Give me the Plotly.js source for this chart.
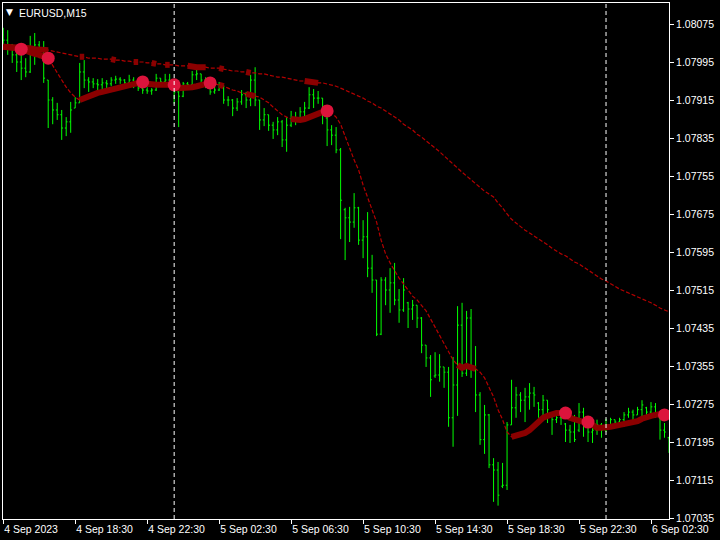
<!DOCTYPE html>
<html>
<head>
<meta charset="utf-8">
<script src="https://cdn.plot.ly/plotly-3.0.1.min.js"></script>
<style>html,body{margin:0;padding:0;background:#000;}#chart{width:720px;height:540px;}</style>
</head>
<body>
<div id="chart"></div>
<script>
// ---- data (EURUSD M15, bars starting 4 Sep 2023 14:30) ----
const startTime = Date.UTC(2023, 8, 4, 14, 30);
const barMinutes = 15;

const open = [1.08052,1.08041,1.08031,1.08010,1.07995,1.07982,1.07974,1.08024,1.08031,1.08020,
1.07957,1.07915,1.07894,1.07884,1.07856,1.07869,1.07898,1.07909,1.07974,1.07957,
1.07953,1.07949,1.07947,1.07951,1.07949,1.07957,1.07959,1.07957,1.07951,1.07957,
1.07953,1.07940,1.07936,1.07934,1.07936,1.07961,1.07953,1.07957,1.07940,1.07932,
1.07923,1.07949,1.07947,1.07968,1.07970,1.07957,1.07953,1.07932,1.07936,1.07947,
1.07915,1.07915,1.07898,1.07911,1.07926,1.07915,1.07957,1.07915,1.07873,1.07884,
1.07862,1.07852,1.07869,1.07831,1.07862,1.07873,1.07877,1.07890,1.07898,1.07926,
1.07919,1.07919,1.07877,1.07852,1.07841,1.07810,1.07684,1.07667,1.07658,1.07688,
1.07620,1.07627,1.07561,1.07536,1.07422,1.07536,1.07515,1.07530,1.07494,1.07473,
1.07488,1.07475,1.07483,1.07456,1.07399,1.07372,1.07334,1.07336,1.07353,1.07342,
1.07246,1.07315,1.07441,1.07340,1.07456,1.07351,1.07294,1.07200,1.07252,1.07147,
1.07136,1.07102,1.07104,1.07231,1.07267,1.07294,1.07283,1.07290,1.07298,1.07277,
1.07263,1.07283,1.07250,1.07242,1.07246,1.07233,1.07220,1.07216,1.07220,1.07258,
1.07229,1.07216,1.07220,1.07231,1.07220,1.07231,1.07242,1.07237,1.07242,1.07252,
1.07258,1.07252,1.07263,1.07267,1.07258,1.07269,1.07246,1.07220,1.07204];

const high = [1.08067,1.08062,1.08033,1.08020,1.08010,1.08003,1.08050,1.08056,1.08039,1.08039,
1.07957,1.07921,1.07909,1.07894,1.07879,1.07911,1.07921,1.07993,1.07999,1.07963,
1.07961,1.07959,1.07961,1.07957,1.07963,1.07966,1.07963,1.07959,1.07968,1.07963,
1.07953,1.07944,1.07942,1.07940,1.07970,1.07961,1.07970,1.07970,1.07944,1.07940,
1.07953,1.07953,1.07976,1.07980,1.07970,1.07963,1.07953,1.07944,1.07953,1.07947,
1.07923,1.07917,1.07919,1.07936,1.07932,1.07968,1.07984,1.07915,1.07898,1.07884,
1.07869,1.07879,1.07873,1.07879,1.07892,1.07890,1.07900,1.07911,1.07942,1.07938,
1.07934,1.07919,1.07879,1.07862,1.07858,1.07814,1.07688,1.07690,1.07719,1.07690,
1.07662,1.07679,1.07589,1.07536,1.07542,1.07542,1.07561,1.07572,1.07517,1.07540,
1.07490,1.07494,1.07483,1.07458,1.07399,1.07378,1.07384,1.07380,1.07353,1.07353,
1.07374,1.07481,1.07488,1.07471,1.07475,1.07397,1.07300,1.07273,1.07254,1.07161,
1.07153,1.07151,1.07237,1.07326,1.07311,1.07300,1.07309,1.07319,1.07311,1.07279,
1.07294,1.07283,1.07252,1.07256,1.07263,1.07235,1.07231,1.07252,1.07277,1.07267,
1.07231,1.07227,1.07242,1.07235,1.07244,1.07246,1.07242,1.07246,1.07258,1.07267,
1.07263,1.07269,1.07283,1.07269,1.07279,1.07277,1.07248,1.07235,1.07206];

const low = [1.08031,1.08010,1.07993,1.07974,1.07957,1.07963,1.07972,1.07989,1.08003,1.07951,
1.07856,1.07864,1.07873,1.07831,1.07839,1.07846,1.07898,1.07909,1.07940,1.07932,
1.07940,1.07934,1.07932,1.07940,1.07944,1.07949,1.07949,1.07940,1.07947,1.07940,
1.07934,1.07928,1.07928,1.07926,1.07934,1.07944,1.07944,1.07944,1.07907,1.07858,
1.07921,1.07938,1.07942,1.07957,1.07949,1.07940,1.07926,1.07928,1.07934,1.07907,
1.07902,1.07881,1.07892,1.07905,1.07898,1.07902,1.07902,1.07852,1.07860,1.07850,
1.07833,1.07841,1.07816,1.07806,1.07858,1.07862,1.07869,1.07877,1.07896,1.07898,
1.07907,1.07864,1.07818,1.07820,1.07803,1.07622,1.07578,1.07616,1.07646,1.07610,
1.07582,1.07542,1.07509,1.07418,1.07420,1.07483,1.07467,1.07483,1.07446,1.07469,
1.07435,1.07452,1.07435,1.07382,1.07353,1.07290,1.07330,1.07322,1.07309,1.07227,
1.07185,1.07250,1.07332,1.07334,1.07330,1.07258,1.07189,1.07170,1.07140,1.07069,
1.07061,1.07098,1.07094,1.07231,1.07246,1.07258,1.07237,1.07263,1.07269,1.07246,
1.07248,1.07235,1.07210,1.07235,1.07231,1.07195,1.07193,1.07195,1.07216,1.07206,
1.07195,1.07193,1.07210,1.07204,1.07216,1.07231,1.07227,1.07231,1.07227,1.07246,
1.07237,1.07252,1.07248,1.07252,1.07256,1.07246,1.07200,1.07204,1.07172];

const close = [1.08041,1.08031,1.08010,1.07995,1.07982,1.07974,1.08024,1.08031,1.08020,1.07961,
1.07915,1.07894,1.07884,1.07856,1.07869,1.07894,1.07909,1.07974,1.07957,1.07953,
1.07949,1.07947,1.07951,1.07949,1.07957,1.07959,1.07957,1.07951,1.07957,1.07953,
1.07940,1.07936,1.07934,1.07936,1.07961,1.07953,1.07957,1.07951,1.07932,1.07923,
1.07949,1.07947,1.07968,1.07970,1.07957,1.07953,1.07932,1.07936,1.07947,1.07915,
1.07915,1.07898,1.07911,1.07926,1.07915,1.07957,1.07915,1.07873,1.07884,1.07862,
1.07852,1.07869,1.07831,1.07862,1.07873,1.07877,1.07890,1.07898,1.07926,1.07919,
1.07919,1.07884,1.07852,1.07841,1.07810,1.07704,1.07667,1.07658,1.07688,1.07620,
1.07627,1.07561,1.07536,1.07422,1.07536,1.07515,1.07530,1.07494,1.07473,1.07515,
1.07475,1.07483,1.07456,1.07399,1.07372,1.07326,1.07336,1.07353,1.07342,1.07246,
1.07315,1.07441,1.07340,1.07456,1.07351,1.07294,1.07200,1.07252,1.07147,1.07136,
1.07083,1.07104,1.07231,1.07267,1.07294,1.07283,1.07290,1.07298,1.07294,1.07263,
1.07283,1.07263,1.07242,1.07246,1.07246,1.07220,1.07216,1.07200,1.07258,1.07242,
1.07216,1.07220,1.07231,1.07220,1.07231,1.07242,1.07237,1.07242,1.07252,1.07258,
1.07252,1.07263,1.07273,1.07258,1.07269,1.07252,1.07220,1.07216,1.07189];

// fast moving average (red, thin dashed with thick sections)
const fastMA = [1.08027,1.08027,1.08024,1.08024,1.08022,1.08018,1.08014,1.08012,1.08010,1.08008,
1.08003,1.07987,1.07972,1.07957,1.07942,1.07930,1.07921,1.07915,1.07919,1.07923,
1.07928,1.07930,1.07932,1.07934,1.07938,1.07940,1.07942,1.07944,1.07947,1.07949,
1.07951,1.07953,1.07949,1.07947,1.07947,1.07947,1.07947,1.07947,1.07947,1.07940,
1.07940,1.07940,1.07942,1.07944,1.07947,1.07949,1.07951,1.07949,1.07947,1.07944,
1.07940,1.07936,1.07934,1.07930,1.07928,1.07926,1.07923,1.07921,1.07915,1.07909,
1.07900,1.07892,1.07884,1.07879,1.07875,1.07873,1.07873,1.07875,1.07879,1.07884,
1.07888,1.07890,1.07892,1.07888,1.07879,1.07864,1.07841,1.07814,1.07789,1.07768,
1.07736,1.07711,1.07686,1.07658,1.07620,1.07591,1.07572,1.07555,1.07540,1.07528,
1.07515,1.07502,1.07494,1.07483,1.07471,1.07454,1.07437,1.07420,1.07403,1.07384,
1.07368,1.07357,1.07351,1.07355,1.07353,1.07349,1.07342,1.07330,1.07309,1.07290,
1.07263,1.07242,1.07216,1.07206,1.07208,1.07210,1.07214,1.07220,1.07229,1.07239,
1.07246,1.07250,1.07254,1.07256,1.07256,1.07256,1.07246,1.07242,1.07239,1.07237,
1.07237,1.07231,1.07225,1.07225,1.07225,1.07227,1.07229,1.07231,1.07231,1.07233,
1.07237,1.07239,1.07244,1.07248,1.07250,1.07252,1.07254,1.07252,1.07250];

// slow moving average
const slowMA = [1.08027,1.08027,1.08027,1.08024,1.08024,1.08024,1.08024,1.08022,1.08022,1.08022,
1.08020,1.08018,1.08016,1.08014,1.08012,1.08010,1.08008,1.08006,1.08006,1.08003,
1.08003,1.08003,1.08001,1.08001,1.08001,1.07999,1.07999,1.07997,1.07997,1.07995,
1.07995,1.07995,1.07993,1.07993,1.07991,1.07991,1.07989,1.07989,1.07989,1.07987,
1.07987,1.07987,1.07984,1.07984,1.07984,1.07984,1.07982,1.07982,1.07982,1.07980,
1.07978,1.07976,1.07976,1.07974,1.07974,1.07972,1.07972,1.07970,1.07970,1.07968,
1.07966,1.07963,1.07963,1.07961,1.07959,1.07957,1.07955,1.07955,1.07953,1.07953,
1.07951,1.07951,1.07949,1.07947,1.07944,1.07940,1.07936,1.07932,1.07928,1.07923,
1.07919,1.07913,1.07909,1.07902,1.07898,1.07892,1.07886,1.07879,1.07873,1.07864,
1.07858,1.07852,1.07843,1.07837,1.07829,1.07822,1.07814,1.07806,1.07797,1.07789,
1.07780,1.07772,1.07763,1.07755,1.07747,1.07738,1.07732,1.07723,1.07717,1.07711,
1.07698,1.07688,1.07675,1.07664,1.07656,1.07648,1.07641,1.07635,1.07629,1.07622,
1.07616,1.07610,1.07603,1.07597,1.07591,1.07587,1.07580,1.07574,1.07570,1.07563,
1.07557,1.07551,1.07545,1.07538,1.07534,1.07528,1.07523,1.07517,1.07513,1.07509,
1.07504,1.07500,1.07496,1.07492,1.07488,1.07483,1.07477,1.07473,1.07469];

// bar-index ranges where each average is drawn thick
const fastThickRanges = [[0,10],[17,46],[48,49],[54,56],[64,72],[101,105],[113,148]];
const slowThickRanges = [[0,10],[17,18],[24,25],[29,30],[33,34],[36,37],[41,45],[48,49],[54,55],[67,70]];
// bars where a signal dot sits on the fast average
const signalBars = [4,10,31,38,46,72,125,130,147];

const tickTimes = ['2023-09-04 14:30','2023-09-04 18:30','2023-09-04 22:30','2023-09-05 02:30','2023-09-05 06:30',
                   '2023-09-05 10:30','2023-09-05 14:30','2023-09-05 18:30','2023-09-05 22:30','2023-09-06 02:30'];
const tickLabels = ['4 Sep 2023','4 Sep 18:30','4 Sep 22:30','5 Sep 02:30','5 Sep 06:30',
                    '5 Sep 10:30','5 Sep 14:30','5 Sep 18:30','5 Sep 22:30','6 Sep 02:30'];
const daySeparators = ['2023-09-05 00:00','2023-09-06 00:00'];
const priceTicks = [1.07035,1.07115,1.07195,1.07275,1.07355,1.07435,1.07515,1.07595,1.07675,1.07755,1.07835,1.07915,1.07995,1.08075];

// ---- build ----
const step = barMinutes * 60000;
const times = open.map((_, i) => startTime + i * step);

const traces = [];
traces.push({
  type: 'ohlc', x: times, open: open, high: high, low: low, close: close,
  increasing: {line: {color: '#00ff00', width: 1}},
  decreasing: {line: {color: '#00ff00', width: 1}},
  tickwidth: 0.3, hoverinfo: 'skip'
});

const maColor = '#8b0000';
[slowMA, fastMA].forEach(ma => traces.push({
  type: 'scatter', mode: 'lines', x: times, y: ma,
  line: {color: '#b40000', width: 1.2, dash: '4px,2px'}, hoverinfo: 'skip'
}));

function thick(ma, ranges) {
  ranges.forEach(r => traces.push({
    type: 'scatter', mode: 'lines',
    x: times.slice(r[0], r[1] + 1), y: ma.slice(r[0], r[1] + 1),
    line: {color: maColor, width: 6}, hoverinfo: 'skip'
  }));
}
thick(slowMA, slowThickRanges);
thick(fastMA, fastThickRanges);

traces.push({
  type: 'scatter', mode: 'markers',
  x: signalBars.map(i => times[i]), y: signalBars.map(i => fastMA[i]),
  marker: {color: '#dc143c', size: 13}, hoverinfo: 'skip'
});

const font = {family: 'Liberation Sans, Arial, sans-serif', size: 10.5, color: '#ffffff'};
const layout = {
  width: 720, height: 540,
  paper_bgcolor: '#000000', plot_bgcolor: '#000000',
  margin: {l: 3, r: 51, t: 3, b: 21},
  showlegend: false, hovermode: false,
  font: font,
  xaxis: {
    type: 'date',
    range: [startTime - 0.05 * step, startTime + 148.0 * step],
    tickmode: 'array', tickvals: tickTimes, ticktext: tickLabels,
    ticks: 'outside', ticklen: 4, tickcolor: '#ffffff', tickfont: font,
    ticklabelposition: 'outside right',
    showgrid: false, zeroline: false,
    showline: true, linecolor: '#ffffff', linewidth: 1, mirror: true,
    rangeslider: {visible: false}, fixedrange: true
  },
  yaxis: {
    side: 'right',
    range: [1.070329, 1.081192],
    tickmode: 'array', tickvals: priceTicks, ticktext: priceTicks.map(v => v.toFixed(5)),
    ticks: 'outside', ticklen: 4, tickcolor: '#ffffff', tickfont: font,
    showgrid: false, zeroline: false,
    showline: true, linecolor: '#ffffff', linewidth: 1, mirror: true,
    fixedrange: true
  },
  shapes: daySeparators.map(d => ({
    type: 'line', xref: 'x', yref: 'paper', x0: d, x1: d, y0: 0, y1: 1,
    line: {color: '#ffffff', width: 1, dash: '4px,3px'}
  })),
  annotations: [
    {xref: 'paper', yref: 'paper', x: 0, y: 1, xanchor: 'left', yanchor: 'top',
     xshift: 1, yshift: -2, text: '▼', showarrow: false,
     font: {family: 'DejaVu Sans', size: 9, color: '#ffffff'}},
    {xref: 'paper', yref: 'paper', x: 0, y: 1, xanchor: 'left', yanchor: 'top',
     xshift: 14, yshift: -2, text: 'EURUSD,M15', showarrow: false, font: font}
  ]
};

Plotly.newPlot('chart', traces, layout, {staticPlot: true, displayModeBar: false});
</script>
</body>
</html>
